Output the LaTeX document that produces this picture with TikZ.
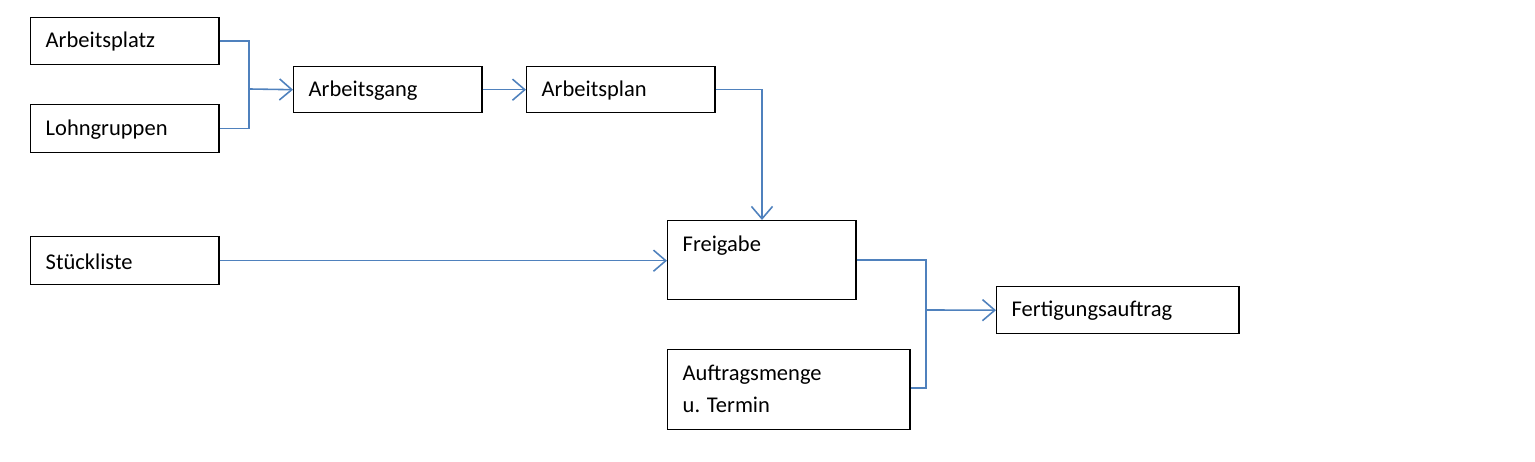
\documentclass[tikz,border=0pt]{standalone}
\usepackage{fontspec}
\setmainfont{Carlito}
\usetikzlibrary{arrows.meta}
\definecolor{ln}{HTML}{4F81BD}
\begin{document}
\begin{tikzpicture}[x=0.01cm,y=-0.01cm,
  box/.style={draw=black,line width=0.4pt,rectangle,inner sep=0pt,anchor=north west},
  txt/.style={inner sep=0pt,anchor=west,font=\fontsize{6.4}{9.1}\selectfont,align=left},
  con/.style={draw=ln,line width=0.45pt},
  arr/.style={con,-{Straight Barb[length=3.5pt,width=6pt]}}]
\useasboundingbox (0,0) rectangle (1535,462);
\node[box,minimum width=1.88cm,minimum height=0.47cm] (ap) at (30,17) {};
\node[box,minimum width=1.88cm,minimum height=0.48cm] (lg) at (30,104) {};
\node[box,minimum width=1.88cm,minimum height=0.46cm] (ag) at (293,66) {};
\node[box,minimum width=1.88cm,minimum height=0.46cm] (pl) at (526,66) {};
\node[box,minimum width=1.88cm,minimum height=0.48cm] (sl) at (30,236) {};
\node[box,minimum width=1.88cm,minimum height=0.79cm] (fg) at (667,220) {};
\node[box,minimum width=2.42cm,minimum height=0.80cm] (am) at (667,349) {};
\node[box,minimum width=2.42cm,minimum height=0.47cm] (fa) at (996,286) {};
\node[txt] at (45,42) {Arbeitsplatz};
\node[txt] at (45,130) {Lohngruppen};
\node[txt] at (308,91) {Arbeitsgang};
\node[txt] at (541,91) {Arbeitsplan};
\node[txt] at (45,262) {Stückliste};
\node[txt] at (682,246) {Freigabe};
\node[txt,anchor=north west] at (682,364) {Auftragsmenge\\u. Termin};
\node[txt] at (1011,311) {Fertigungsauftrag};
\coordinate (j1) at (249,89);
\coordinate (j2) at (926,310);
\draw[con] (ap.east) -| (j1) |- (lg.east);
\draw[arr] (j1) -- (ag.west);
\draw[arr] (ag.east) -- (pl.west);
\draw[arr] (pl.east) -| (fg.north -| 762,0);
\draw[arr] (sl.east) -- (sl.east -| fg.west);
\draw[con] (fg.east |- 0,260) -| (j2) |- (am.east |- 0,388);
\draw[arr] (j2) -- (fa.west);
\end{tikzpicture}
\end{document}
